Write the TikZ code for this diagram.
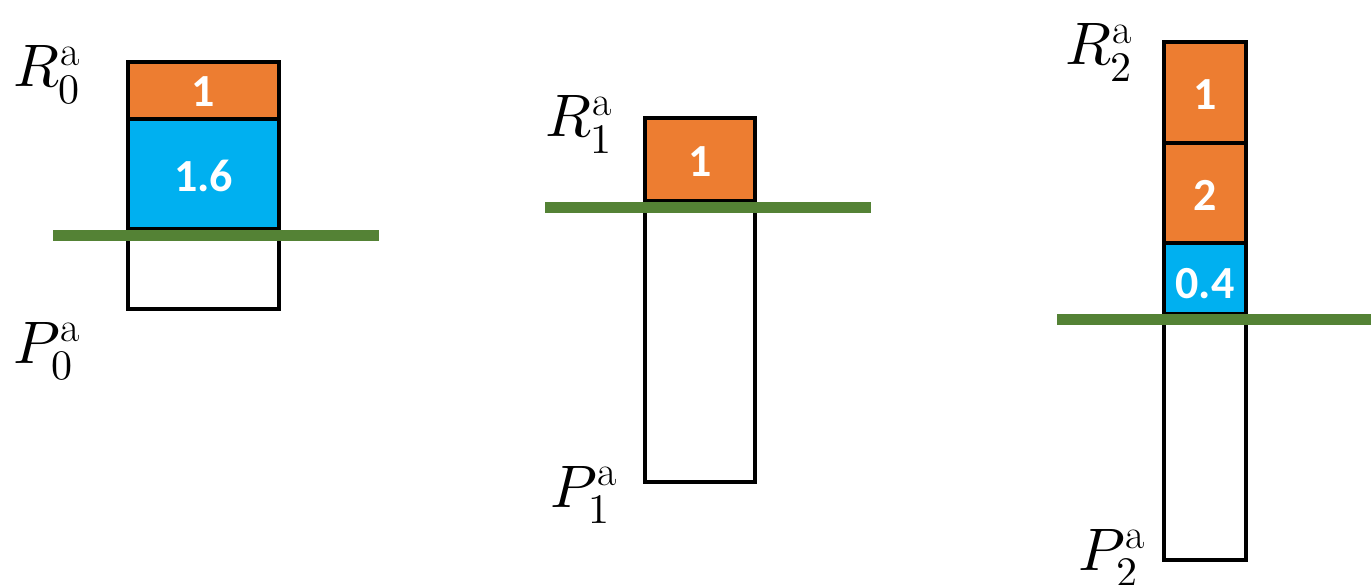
\documentclass[tikz,border=0pt]{standalone}
\usepackage{fontspec}
\usepackage{unicode-math}
\newfontfamily\numfont{Carlito}
\definecolor{borange}{HTML}{ED7D31}
\definecolor{bblue}{HTML}{00B0F0}
\definecolor{bgreen}{HTML}{548235}
\tikzset{
  cell/.style={draw=black, line width=3.5pt},
  orangecell/.style={cell, fill=borange},
  bluecell/.style={cell, fill=bblue},
  whitecell/.style={cell, fill=white},
  num/.style={text=white, font=\numfont\bfseries\fontsize{46}{50}\selectfont, inner sep=0pt},
  lab/.style={anchor=base west, inner sep=0pt, font=\fontsize{60}{70}\selectfont},
  cut/.style={draw=bgreen, line width=11pt}
}
\begin{document}
\begin{tikzpicture}[x=1pt,y=-1pt]
\useasboundingbox (0,0) rectangle (1371,585);
% ---- group 0 ----
\draw[whitecell] (128,229) rectangle (279,309);
\draw[bluecell] (128,119) rectangle (279,229);
\draw[orangecell] (128,62) rectangle (279,119);
\node[num] (n0a) at (203.5,92) {1};
\node[num] (n0b) at (203.5,176) {1.6};
\coordinate (g0l) at (53,236);
\coordinate (g0r) at (379,236);
\draw[cut] (g0l) -- (g0r);
\node[lab] (r0) at (13,87) {$R_0^{\mathrm{a}}$};
\node[lab] (p0) at (13,363) {$P_0^{\mathrm{a}}$};
% ---- group 1 ----
\draw[whitecell] (645,201) rectangle (755,482);
\draw[orangecell] (645,118) rectangle (755,201);
\node[num] (n1a) at (700,162) {1};
\coordinate (g1l) at (545,207.5);
\coordinate (g1r) at (871,207.5);
\draw[cut] (g1l) -- (g1r);
\node[lab] (r1) at (545,137) {$R_1^{\mathrm{a}}$};
\node[lab] (p1) at (550,507) {$P_1^{\mathrm{a}}$};
% ---- group 2 ----
\draw[whitecell] (1164,314) rectangle (1246,560);
\draw[bluecell] (1164,243) rectangle (1246,314);
\draw[orangecell] (1164,143) rectangle (1246,243);
\draw[orangecell] (1164,42) rectangle (1246,143);
\node[num] (n2a) at (1205,95) {1};
\node[num] (n2b) at (1205,195) {2};
\node[num] (n2c) at (1205,284) {0.4};
\coordinate (g2l) at (1057,320);
\coordinate (g2r) at (1371,320);
\draw[cut] (g2l) -- (g2r);
\node[lab] (r2) at (1065,65) {$R_2^{\mathrm{a}}$};
\node[lab] (p2) at (1078,570) {$P_2^{\mathrm{a}}$};
\end{tikzpicture}
\end{document}
